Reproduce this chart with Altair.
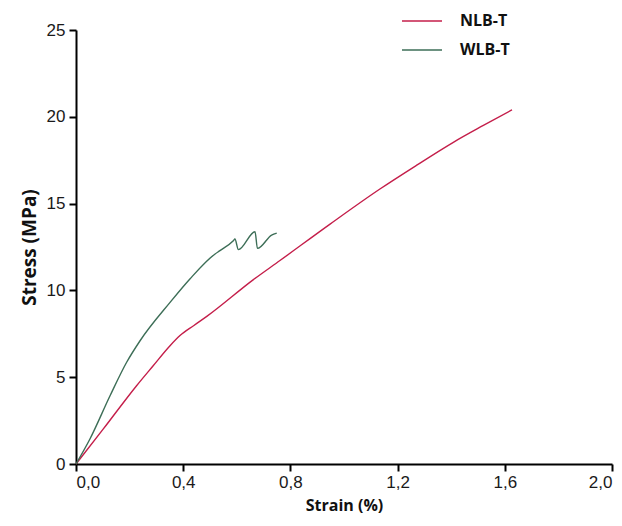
import altair as alt
import pandas as pd

nlb_strain = [0.0, 0.102, 0.226, 0.288, 0.35, 0.388, 0.44, 0.488, 0.662, 0.761, 0.948, 1.134, 1.27, 1.408, 1.52, 1.627]
nlb_stress = [0.0, 2.02, 4.51, 5.66, 6.8, 7.4, 7.98, 8.5, 10.62, 11.72, 13.82, 15.84, 17.2, 18.53, 19.5, 20.4]

wlb_strain = [0.0, 0.052, 0.127, 0.189, 0.239, 0.351, 0.425, 0.519, 0.537, 0.587, 0.593, 0.606, 0.668, 0.677, 0.73, 0.749]
wlb_stress = [0.0, 1.44, 3.93, 5.86, 7.1, 9.31, 10.66, 12.1, 12.29, 12.86, 12.96, 12.35, 13.38, 12.42, 13.19, 13.3]

x_ticks = [0, 0.4, 0.8, 1.2, 1.6, 2.0]
y_ticks = [0, 5, 10, 15, 20, 25]

series = ["NLB-T", "WLB-T"]
colors = ["#c41e4a", "#3d6e57"]

rows = []
for i, (x, y) in enumerate(zip(nlb_strain, nlb_stress)):
    rows.append({"series": "NLB-T", "order": i, "strain": x, "stress": y})
for i, (x, y) in enumerate(zip(wlb_strain, wlb_stress)):
    rows.append({"series": "WLB-T", "order": i, "strain": x, "stress": y})
df = pd.DataFrame(rows)

chart = alt.Chart(df).mark_line(strokeWidth=1.4, interpolate="monotone").encode(
    x=alt.X("strain:Q", title="Strain (%)",
            scale=alt.Scale(domain=[0, 2.0], nice=False),
            axis=alt.Axis(values=x_ticks,
                          labelExpr="replace(format(datum.value, '.1f'), '.', ',')",
                          labelPadding=3, titleFontSize=16, titlePadding=7)),
    y=alt.Y("stress:Q", title="Stress (MPa)",
            scale=alt.Scale(domain=[0, 25], nice=False),
            axis=alt.Axis(values=y_ticks, labelPadding=4,
                          titleFontSize=19, titlePadding=7)),
    color=alt.Color("series:N", scale=alt.Scale(domain=series, range=colors),
                    legend=alt.Legend(title=None, orient="none", legendX=325, legendY=-30,
                                      symbolType="stroke", symbolSize=1600,
                                      symbolStrokeWidth=1.5, labelOffset=17,
                                      labelFont="Open Sans", labelFontSize=16,
                                      labelFontWeight="bold", labelColor="#111",
                                      rowPadding=-7)),
    order="order:Q",
).properties(
    width=536, height=434,
    background="white",
    autosize=alt.AutoSizeParams(type="none"),
    padding={"left": 68, "top": 22, "right": 2, "bottom": 60},
).configure_view(
    stroke=None
).configure_axis(
    grid=False, ticks=True, domainColor="black", domainWidth=2,
    tickColor="black", tickWidth=2, tickSize=7,
    labelFont="Liberation Sans", labelFontSize=17, labelColor="#1a1a1a",
    titleFont="Open Sans", titleFontWeight="bold", titleColor="#111",
)

chart.save("out.html", embed_options={"renderer": "svg", "actions": False})
